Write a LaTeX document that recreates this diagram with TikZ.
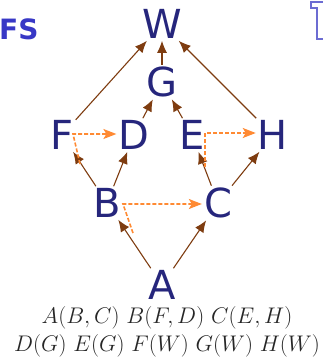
\documentclass[tikz,border=0pt]{standalone}
\usepackage{fontspec}
\setsansfont{DejaVu Sans}
\usepackage{tikz}
\usetikzlibrary{arrows.meta}
\usepackage{xcolor}
\definecolor{Navy}{HTML}{26267C}
\definecolor{Rust}{HTML}{7E3C10}
\definecolor{Peach}{HTML}{FF8A33}
\definecolor{Royal}{HTML}{3838C6}
\definecolor{Lilac}{HTML}{6C6CD2}

\begin{document}
\begin{tikzpicture}[x=1pt,y=-1pt,
  every node/.style={inner sep=2pt},
  vert/.style={font=\fontsize{40}{40}\selectfont\sffamily,text=Navy},
  link/.style={draw=Rust,line width=1.1pt,-{Latex[length=12pt,width=10pt]}},
  visit/.style={draw=Peach,line width=1.6pt,dash pattern=on 4pt off 2pt,-{Stealth[length=13pt,width=10pt,inset=3pt]}}]
  \useasboundingbox (0,0) rectangle (322,359);
  % heading pieces at the edges
  \node[inner sep=0,anchor=base west,text=Royal,font=\fontsize{28}{28}\selectfont\sffamily\bfseries] (title) at (-1,39) {FS};
  \draw[Lilac,line width=1.1pt] (323,2) -- (311,2) -- (311,8) -- (317,8) -- (317,39) -- (323,39);
  % vertices
  \node[vert] (W) at (162,24) {W};
  \node[vert] (G) at (162,82) {G};
  \node[vert] (F) at (62,135) {F};
  \node[vert] (D) at (134,135) {D};
  \node[vert] (E) at (192,135) {E};
  \node[vert] (H) at (273,135) {H};
  \node[vert] (B) at (107,203) {B};
  \node[vert] (C) at (218,203) {C};
  \node[vert] (A) at (162,285) {A};
  % tree edges
  \foreach \u/\v in {A/B,A/C,B/F,B/D,C/E,C/H,F/W,D/G,E/G,H/W,G/W}{
    \draw[link] (\u) -- (\v);
  }
  % backtracking moves
  \coordinate (bs) at (133,233); \coordinate (bt) at (123,204);
  \coordinate (fs) at (80,164);  \coordinate (ft) at (73,134);
  \coordinate (es) at (205,167); \coordinate (et) at (205,133);
  \draw[visit] (bs) -- (bt) -- (C.west|-bt);
  \draw[visit] (fs) -- (ft) -- (D.west|-ft);
  \draw[visit] (es) -- (et) -- (H.west|-et);
  % adjacency lists (cm math comes in fixed sizes, so scale it up a bit)
  \node[inner sep=0,text=black!85] (adj) at (167,332)
    {\scalebox{1.09}{\fontsize{20.74}{25}\selectfont\begin{tabular}{@{}c@{}}
      $A(B,C)$ $B(F,D)$ $C(E,H)$\\ $D(G)$ $E(G)$ $F(W)$ $G(W)$ $H(W)$
    \end{tabular}}};
\end{tikzpicture}
\end{document}
